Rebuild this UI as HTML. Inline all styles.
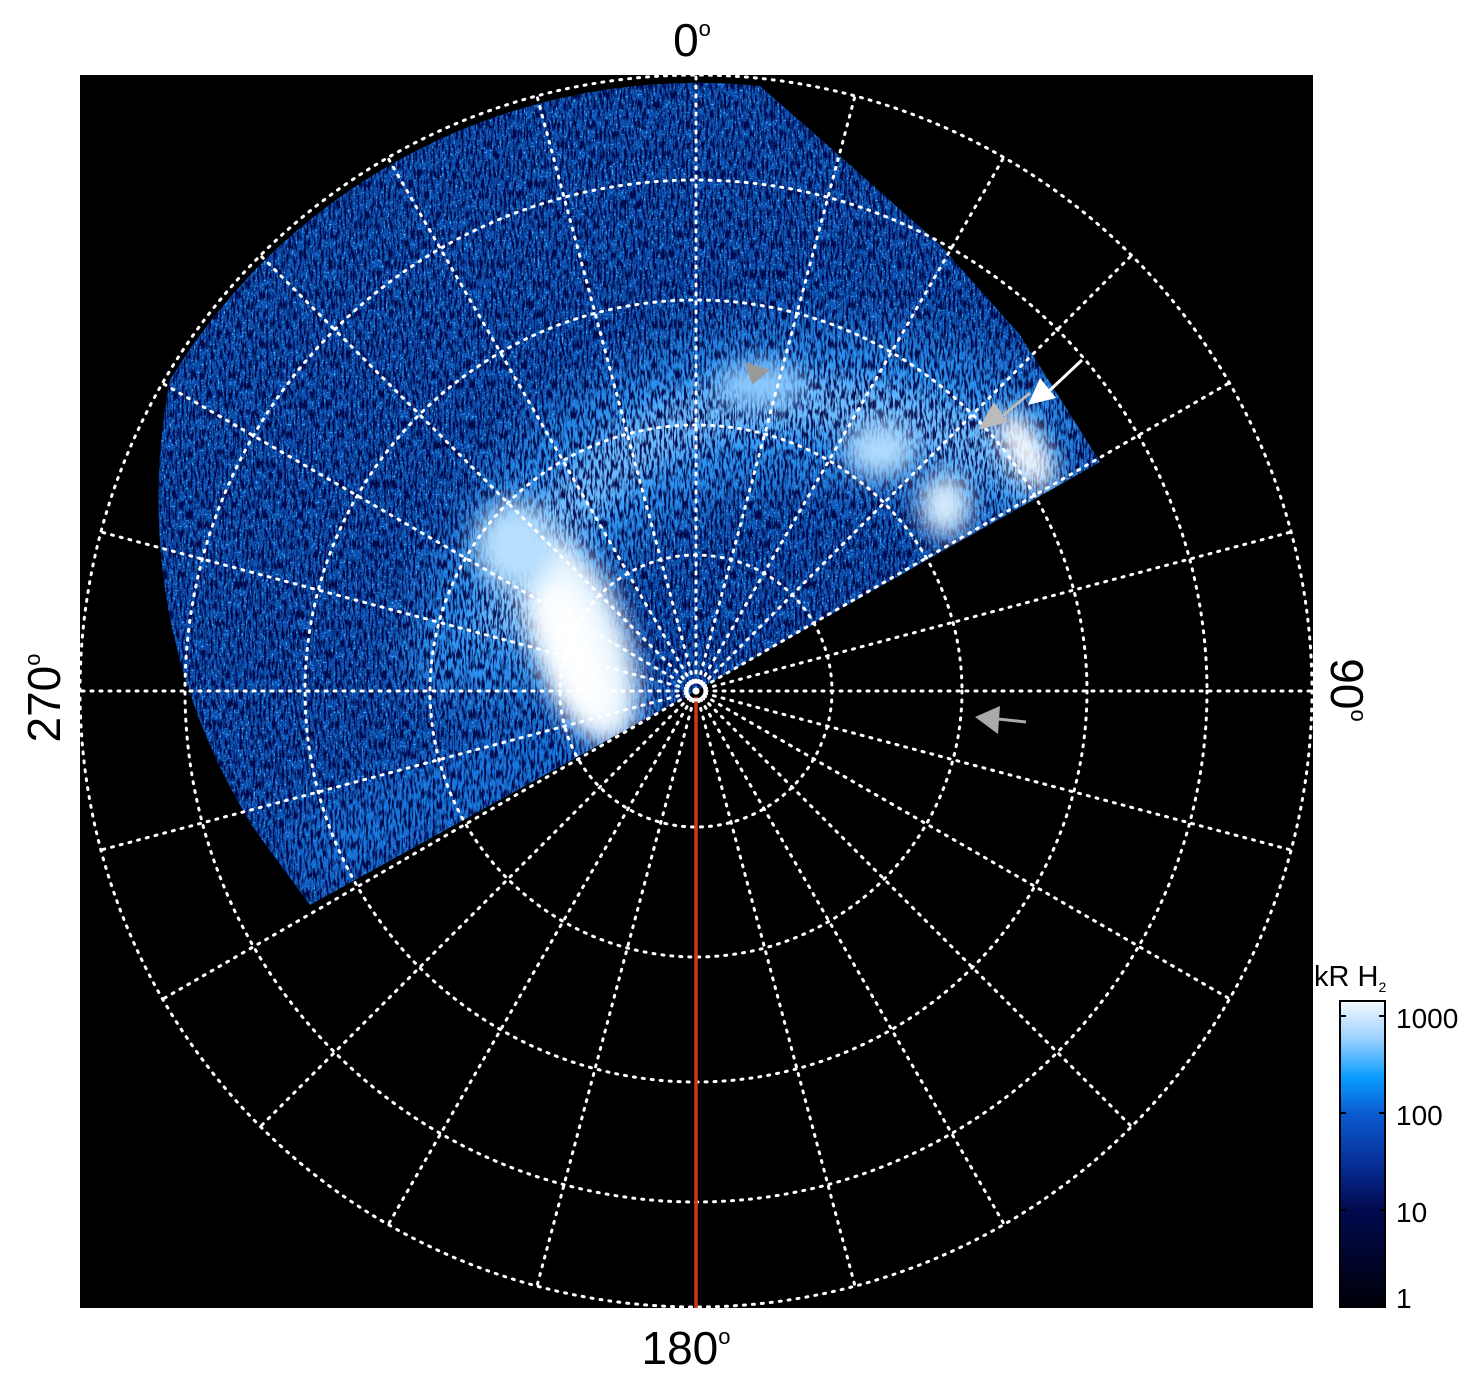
<!DOCTYPE html>
<html><head><meta charset="utf-8"><style>
html,body{margin:0;padding:0;background:#fff;}
svg{display:block;}
text{font-family:"Liberation Sans",sans-serif;}
</style></head><body>
<svg width="1481" height="1384" viewBox="0 0 1481 1384" xmlns="http://www.w3.org/2000/svg">
<defs>
<clipPath id="reg"><path d="M696,691 L310,905 L255,830 A617,617 0 0 1 170,380 A617,617 0 0 1 760,86 L850,165 L940,245 L1020,335 L1100,462 Z"/></clipPath>
<filter id="spk" x="0" y="0" width="100%" height="100%">
<feTurbulence type="fractalNoise" baseFrequency="0.45 0.1" numOctaves="2" seed="3"/>
<feColorMatrix type="matrix" values="0 0 0 0 0  0 0 0 0 0  0 0 0 0 0.05  5 0 0 0 -2.2"/>
</filter>
<filter id="spk2" x="0" y="0" width="100%" height="100%">
<feTurbulence type="fractalNoise" baseFrequency="0.5" numOctaves="1" seed="9"/>
<feColorMatrix type="matrix" values="0 0 0 0 0.05  0 0 0 0 0.5  0 0 0 0 1  4 0 0 0 -2.1"/>
</filter>
<filter id="bl" x="-50%" y="-50%" width="200%" height="200%"><feGaussianBlur stdDeviation="25"/></filter>
<filter id="bl2" x="-50%" y="-50%" width="200%" height="200%"><feGaussianBlur stdDeviation="12"/></filter>
<linearGradient id="cb" x1="0" y1="0" x2="0" y2="1">
<stop offset="0" stop-color="#f4f9ff"/>
<stop offset="0.12" stop-color="#9ed2ff"/>
<stop offset="0.25" stop-color="#0a9cff"/>
<stop offset="0.37" stop-color="#0a5ad0"/>
<stop offset="0.55" stop-color="#062a90"/>
<stop offset="0.68" stop-color="#020a50"/>
<stop offset="1" stop-color="#000008"/>
</linearGradient>
</defs>
<rect x="80" y="75" width="1233" height="1233" fill="#000"/>
<g clip-path="url(#reg)">
<rect x="80" y="75" width="1233" height="1233" fill="#0a4cae"/>
<rect x="80" y="75" width="1233" height="1233" filter="url(#spk2)"/>
<path d="M480,700 Q520,460 740,410 Q900,385 1060,480" fill="none" stroke="#2e98f5" stroke-width="150" filter="url(#bl)"/>
<path d="M500,640 Q560,450 740,405 Q900,390 1040,480" fill="none" stroke="#6cbcff" stroke-width="55" filter="url(#bl2)"/>
<path d="M300,860 L660,700" stroke="#1a80e8" stroke-width="60" filter="url(#bl)"/>
<rect x="80" y="75" width="1233" height="1233" filter="url(#spk)" opacity="0.9"/>
<ellipse cx="580" cy="640" rx="48" ry="110" transform="rotate(-20 580 640)" fill="#e6f4ff" filter="url(#bl2)"/>
<ellipse cx="575" cy="650" rx="25" ry="80" transform="rotate(-20 575 650)" fill="#fff" filter="url(#bl2)"/>
<ellipse cx="515" cy="545" rx="40" ry="45" fill="#b8e0ff" filter="url(#bl2)"/>
<ellipse cx="880" cy="450" rx="35" ry="28" fill="#b0dcff" filter="url(#bl2)"/>
<ellipse cx="945" cy="505" rx="25" ry="32" fill="#d8efff" filter="url(#bl2)"/>
<ellipse cx="1025" cy="450" rx="18" ry="45" transform="rotate(-30 1025 450)" fill="#fff" filter="url(#bl2)"/>
<ellipse cx="760" cy="385" rx="45" ry="22" fill="#8ccaff" filter="url(#bl2)"/>
</g>
<g fill="none" stroke="#fff" stroke-width="3" stroke-dasharray="2 7" stroke-linecap="round">
<circle cx="696" cy="691" r="136"/>
<circle cx="696" cy="691" r="266"/>
<circle cx="696" cy="691" r="391"/>
<circle cx="696" cy="691" r="511"/>
<circle cx="696" cy="691" r="616"/>
<g id="sp">
<line x1="696" y1="691" x2="696" y2="75"/>
<line x1="696" y1="691" x2="855" y2="96"/>
<line x1="696" y1="691" x2="1004" y2="157"/>
<line x1="696" y1="691" x2="1132" y2="255"/>
<line x1="696" y1="691" x2="1229" y2="383"/>
<line x1="696" y1="691" x2="1291" y2="532"/>
</g>
<use href="#sp" transform="rotate(90 696 691)"/>
<use href="#sp" transform="rotate(180 696 691)"/>
<use href="#sp" transform="rotate(270 696 691)"/>
</g>
<line x1="696" y1="697" x2="696" y2="1308" stroke="#d03810" stroke-width="3.5"/>
<circle cx="696" cy="691" r="9" fill="none" stroke="#fff" stroke-width="3"/>
<polygon points="745,362 770,370 752,385" fill="#999"/>
<line x1="1030" y1="393" x2="1000" y2="418" stroke="#bbb" stroke-width="3"/>
<polygon points="978,430 994,402 1008,422" fill="#bbb"/>
<line x1="1082" y1="360" x2="1048" y2="392" stroke="#fff" stroke-width="3"/>
<polygon points="1028,405 1040,378 1056,398" fill="#fff"/>
<line x1="1026" y1="722" x2="998" y2="719" stroke="#aaa" stroke-width="3"/>
<polygon points="975,717 1000,706 998,734" fill="#aaa"/>
<text x="692" y="56" font-size="46" text-anchor="middle">0<tspan font-size="22" dy="-20">o</tspan></text>
<text x="686" y="1364" font-size="46" text-anchor="middle">180<tspan font-size="22" dy="-20">o</tspan></text>
<text transform="translate(60,698) rotate(-90)" font-size="46" text-anchor="middle">270<tspan font-size="22" dy="-20">o</tspan></text>
<text transform="translate(1331,690) rotate(90)" font-size="46" text-anchor="middle">90<tspan font-size="22" dy="-20">o</tspan></text>
<text x="1314" y="986" font-size="29">kR H<tspan font-size="14" dy="6">2</tspan></text>
<rect x="1340" y="1001" width="45" height="306" fill="url(#cb)" stroke="#000" stroke-width="2"/>
<g stroke="#000" stroke-width="2">
<line x1="1340" y1="1016" x2="1346" y2="1016"/><line x1="1379" y1="1016" x2="1385" y2="1016"/>
<line x1="1340" y1="1113" x2="1346" y2="1113"/><line x1="1379" y1="1113" x2="1385" y2="1113"/>
<line x1="1340" y1="1210" x2="1346" y2="1210"/><line x1="1379" y1="1210" x2="1385" y2="1210"/>
</g>
<g font-size="28">
<text x="1396" y="1028">1000</text>
<text x="1396" y="1125">100</text>
<text x="1396" y="1222">10</text>
<text x="1396" y="1308">1</text>
</g>
</svg>
</body></html>
